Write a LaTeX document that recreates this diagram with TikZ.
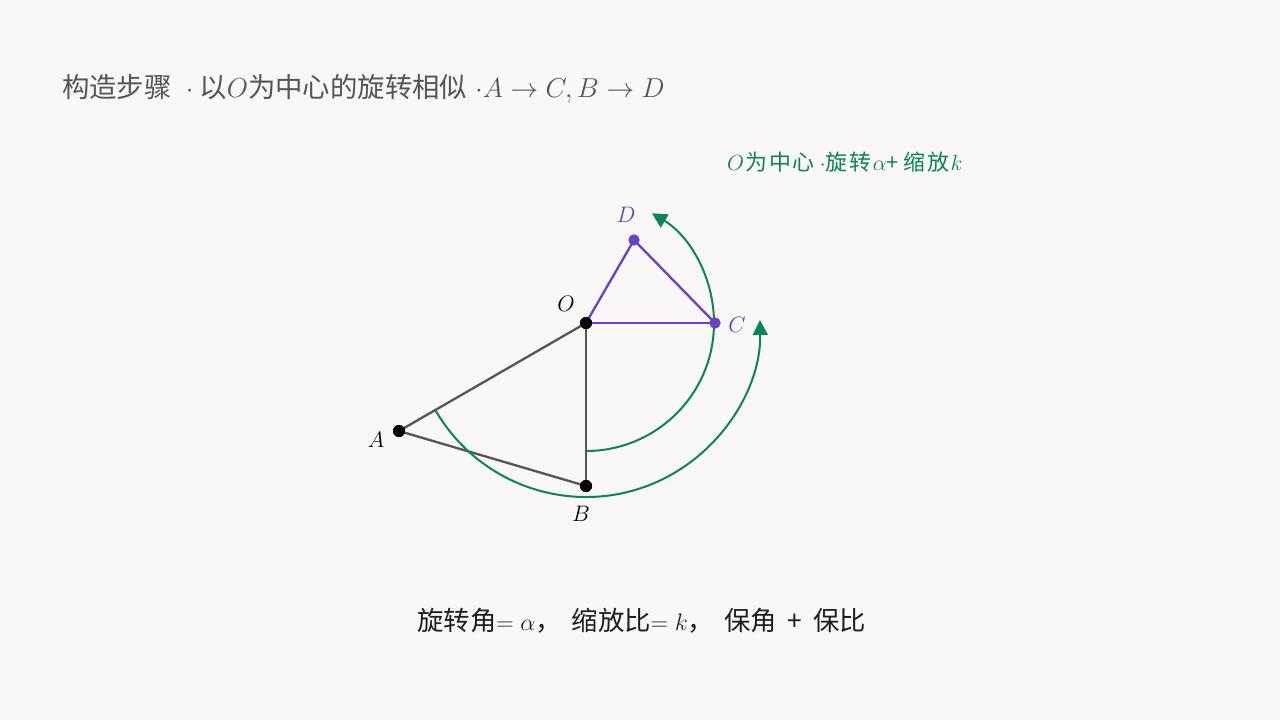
\RequirePackage{fix-cm}
\documentclass[tikz,border=0pt]{standalone}
\usepackage{fontspec}
\newfontfamily\cjk{Noto Sans CJK SC}
\usetikzlibrary{arrows.meta,calc}
\definecolor{bg}{HTML}{F9F8F6}
\definecolor{gline}{HTML}{555555}
\definecolor{pur}{HTML}{6A40C6}
\definecolor{grn}{HTML}{0B8457}
\definecolor{ttl}{HTML}{555555}
\definecolor{txt}{HTML}{1E1E1E}
\newcommand\tk{\kern1.6bp}
\newcommand\midmath[1]{{\fontsize{24}{28}\selectfont$#1$}}
\tikzset{
  seg/.style={draw=gline,line width=2.3bp},
  pseg/.style={draw=pur,line width=2.3bp},
  bdot/.style={circle,fill=black,inner sep=0pt,minimum size=12bp},
  pdot/.style={circle,fill=pur,inner sep=0pt,minimum size=11bp},
  ptlabel/.style={inner sep=0pt,font=\fontsize{22.5}{24}\selectfont},
  garc/.style={draw=grn,line width=2bp,-{Triangle[length=15bp,width=15bp]}},
}
\begin{document}
\begin{tikzpicture}[x=1bp,y=-1bp]
\fill[bg] (0,0) rectangle (1280,720);
\useasboundingbox (0,0) rectangle (1280,720);
% points
\node[bdot] (O) at (586,323) {};
\node[bdot] (A) at (399,431) {};
\node[bdot] (B) at (586,486) {};
\node[pdot] (C) at (715,323) {};
\node[pdot] (D) at (634,240) {};
% triangles
\draw[seg] (A.center) -- (O.center);
\draw[seg] (A.center) -- (B.center);
\draw[seg] (O.center) -- (B.center);
\draw[pseg] (O.center) -- (C.center);
\draw[pseg] (O.center) -- (D.center);
\draw[pseg] (D.center) -- (C.center);
% arcs
\draw[garc] ($(O.center)+(90:128)$) arc[start angle=90,end angle=-59,radius=128];
\draw[garc] ($(O.center)+(150:174)$) arc[start angle=150,end angle=-1,radius=174];
% redraw dots on top
\node[bdot] at (O) {};
\node[bdot] at (A) {};
\node[bdot] at (B) {};
\node[pdot] at (C) {};
\node[pdot] at (D) {};
% labels
\node[ptlabel] (lO) at (566,304) {$O$};
\node[ptlabel] (lA) at (376,440) {$A$};
\node[ptlabel] (lB) at (581,514) {$B$};
\node[ptlabel,text=pur] (lC) at (737,325) {$C$};
\node[ptlabel,text=pur] (lD) at (626,215) {$D$};
% title
\node[anchor=west,inner sep=0pt,text=ttl,font=\fontsize{27.5}{32}\selectfont] (title) at (62,89)
  {\cjk 构造步骤\hspace{14bp}$\cdot$\hspace{6bp}以$O$为中心的旋转相似\hspace{8bp}$\cdot A\to C,B\to D$};
% green note
\node[anchor=west,inner sep=0pt,text=grn,font=\fontsize{22}{26}\selectfont] (note) at (727,162)
  {$O$\cjk\tk 为\tk 中\tk 心 $\cdot$旋\tk 转\tk$\alpha$+ 缩\tk 放\tk$k$};
% bottom
\node[anchor=west,inner sep=0pt,text=txt,font=\fontsize{26.5}{32}\selectfont] (bottom) at (417,621)
  {\cjk 旋转角\midmath{=\alpha}，\hspace{10bp}缩放比\midmath{=k}，\hspace{10bp}保角\hspace{11bp}+\hspace{11bp}保比};
\end{tikzpicture}
\end{document}
